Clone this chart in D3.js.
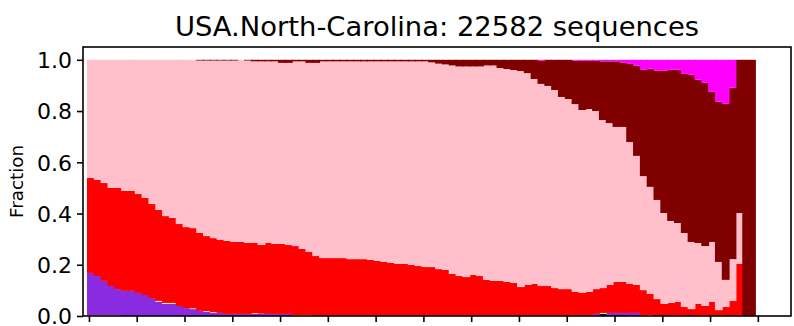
<!DOCTYPE html>
<html>
<head>
<meta charset="utf-8">
<script src="https://cdn.jsdelivr.net/npm/d3@7"></script>
<style>
  html, body { margin: 0; padding: 0; background: #fff; }
  svg { display: block; }
  text { font-family: "DejaVu Sans", sans-serif; fill: #000; }
</style>
</head>
<body>
<svg id="chart" width="794" height="326"></svg>
<script>
// Weekly lineage fractions, USA.North-Carolina (98 weekly bins, oldest first)
const titleText = "USA.North-Carolina: 22582 sequences";
const yLabel = "Fraction";

const orangeFrac = [0.004,0.004,0.004,0.004,0.004,0,0,0,0,0, 0,0,0,0,0,0,0,0,0,0,
  0,0,0,0,0,0,0,0,0,0, 0,0,0,0,0,0,0,0,0,0, 0,0,0,0,0,0,0,0,0,0, 0,0,0,0,0,0,0,0,0,0,
  0,0,0,0,0,0,0,0,0,0, 0,0,0,0,0,0,0,0,0,0, 0,0,0,0,0,0,0,0,0,0, 0,0,0,0,0,0,0,0];

const blackFrac = [0,0,0,0,0,0,0,0,0,0, 0,0,0,0,0,0,0,0,0,0,
  0,0,0,0,0,0,0,0,0,0, 0,0,0,0,0,0,0,0,0,0, 0,0,0,0,0,0,0,0,0,0, 0,0,0,0,0,0,0,0,0,0,
  0,0,0,0,0,0,0,0,0,0, 0,0,0,0,0,0.008,0.004,0.004,0.004,0, 0,0,0,0,0,0,0,0,0,0, 0,0,0,0,0,0,0,0];

const purpleFrac = [0.164,0.152,0.133,0.113,0.101,0.098,0.098,0.090,0.082,0.070,
  0.055,0.047,0.047,0.039,0.031,0.027,0.020,0.016,0.012,0.012,
  0.008,0.008,0.008,0.008,0.008,0.010,0.008,0.008,0.008,0.008,
  0,0,0,0,0,0,0,0,0,0, 0,0,0,0,0,0,0,0,0,0, 0,0,0,0,0,0,0,0,0,0,
  0,0,0,0,0,0,0,0,0,0, 0,0,0.004,0.004,0.008,0,0.008,0.008,0.008,0.012,
  0.012,0,0,0,0,0,0,0,0,0, 0,0,0,0,0,0,0,0];

const yellowFrac = [0,0,0,0,0,0,0,0,0,0, 0.004,0.004,0.004,0,0,0.003,0,0.003,0.003,0,
  0,0,0,0,0.003,0,0,0,0,0, 0.003,0.004,0.004,0,0,0,0,0,0,0,
  0,0,0,0,0,0,0,0,0,0, 0,0,0,0,0,0,0,0,0,0,
  0,0,0,0,0,0,0,0,0,0, 0,0,0,0,0,0.004,0,0,0,0,
  0,0,0.004,0,0,0,0,0,0,0, 0,0,0,0,0,0,0,0];

const grayFrac = [0,0,0,0,0,0,0,0,0,0, 0,0,0,0,0,0,0,0,0,0,
  0,0,0,0,0,0,0,0,0,0, 0,0,0,0,0,0,0,0,0,0, 0,0,0,0,0,0,0,0,0,0, 0,0,0,0,0,0,0,0,0,0,
  0,0,0,0,0,0,0,0,0,0, 0,0,0,0,0,0,0,0,0,0, 0,0.004,0,0,0,0,0,0,0,0, 0,0,0,0,0,0,0,0];

const redFrac = [0.371,0.375,0.382,0.383,0.395,0.390,0.390,0.386,0.379,0.367,
  0.355,0.339,0.332,0.320,0.316,0.313,0.304,0.293,0.289,0.285,
  0.285,0.281,0.281,0.277,0.274,0.267,0.277,0.273,0.273,0.269,
  0.270,0.258,0.246,0.234,0.226,0.226,0.226,0.226,0.222,0.222,
  0.222,0.219,0.215,0.211,0.207,0.203,0.203,0.199,0.195,0.191,
  0.191,0.183,0.180,0.164,0.156,0.152,0.160,0.156,0.141,0.137,
  0.137,0.133,0.129,0.113,0.121,0.125,0.117,0.117,0.109,0.105,
  0.105,0.094,0.086,0.090,0.097,0.097,0.109,0.121,0.121,0.113,
  0.109,0.097,0.082,0.066,0.047,0.051,0.055,0.035,0.027,0.047,
  0.039,0.055,0.023,0.035,0.059,0.203,0,0];

const pinkFrac = [0.461,0.469,0.481,0.500,0.500,0.512,0.512,0.524,0.539,0.563,
  0.586,0.610,0.617,0.641,0.653,0.657,0.673,0.685,0.693,0.700,
  0.704,0.708,0.711,0.712,0.709,0.717,0.709,0.713,0.707,0.711,
  0.721,0.732,0.738,0.754,0.768,0.768,0.768,0.768,0.772,0.772,
  0.772,0.775,0.779,0.783,0.787,0.791,0.791,0.795,0.799,0.803,
  0.799,0.802,0.802,0.814,0.818,0.822,0.814,0.818,0.837,0.841,
  0.831,0.831,0.831,0.843,0.827,0.800,0.789,0.781,0.773,0.750,
  0.742,0.733,0.714,0.714,0.695,0.656,0.632,0.605,0.605,0.554,
  0.504,0.445,0.418,0.387,0.355,0.320,0.308,0.289,0.262,0.238,
  0.234,0.234,0.188,0.106,0.163,0.199,0,0];

const maroonFrac = [0,0,0,0,0,0,0,0,0,0, 0,0,0,0,0,0,0.003,0.003,0.003,0.003,
  0.003,0.003,0,0.003,0.006,0.006,0.006,0.006,0.012,0.012,
  0.006,0.006,0.012,0.012,0.006,0.006,0.006,0.006,0.006,0.006,
  0.006,0.006,0.006,0.006,0.006,0.006,0.006,0.006,0.006,0.006,
  0.010,0.015,0.018,0.022,0.026,0.026,0.026,0.026,0.022,0.022,
  0.032,0.036,0.040,0.044,0.052,0.075,0.090,0.102,0.118,0.145,
  0.153,0.170,0.192,0.188,0.196,0.229,0.241,0.256,0.250,0.305,
  0.352,0.415,0.461,0.504,0.555,0.590,0.598,0.621,0.652,0.637,
  0.637,0.586,0.625,0.687,0.669,0.598,1,1];

const magentaFrac = [0,0,0,0,0,0,0,0,0,0, 0,0,0,0,0,0,0,0,0,0,
  0,0,0,0,0,0,0,0,0,0, 0,0,0,0,0,0,0,0,0,0, 0,0,0,0,0,0,0,0,0,0, 0,0,0,0,0,0,0,0,0,0,
  0,0,0,0,0,0,0.004,0,0,0, 0,0.003,0.004,0.004,0.004,0.006,0.006,0.006,0.012,0.016,
  0.023,0.039,0.035,0.043,0.043,0.039,0.039,0.055,0.059,0.078,
  0.090,0.125,0.164,0.172,0.109,0,0,0];

// x ticks every 49 days (7 weekly bins); labels fall below the visible area
const tickDays = [2, 51, 100, 149, 198, 247, 296, 345, 394, 443, 492, 541, 590, 639, 688];
const yTicks = [0, 0.2, 0.4, 0.6, 0.8, 1.0];

const layers = [
  { key: "orange",  values: orangeFrac,  color: "#ffa500" },
  { key: "black",   values: blackFrac,   color: "#000000" },
  { key: "purple",  values: purpleFrac,  color: "#8a2be2" },
  { key: "yellow",  values: yellowFrac,  color: "#f0e68c" },
  { key: "gray",    values: grayFrac,    color: "#a9a9a9" },
  { key: "red",     values: redFrac,     color: "#ff0000" },
  { key: "pink",    values: pinkFrac,    color: "#ffc0cb" },
  { key: "maroon",  values: maroonFrac,  color: "#800000" },
  { key: "magenta", values: magentaFrac, color: "#ff00ff" }
];

const nBins = redFrac.length;
const rows = d3.range(nBins).map(i => {
  const r = { day: i * 7 };
  layers.forEach(l => { r[l.key] = l.values[i]; });
  return r;
});

const svg = d3.select("#chart");
const plot = { left: 83, right: 791, top: 47, bottom: 316 };

const x = d3.scaleLinear().domain([-4.1, 722.0]).range([plot.left, plot.right]);
const y = d3.scaleLinear().domain([0, 1.05]).range([plot.bottom, plot.top]);

const stack = d3.stack().keys(layers.map(l => l.key));
const series = stack(rows);

const lastDay = (nBins - 1) * 7;
const barsG = svg.append("g");
series.forEach((s, li) => {
  barsG.append("g")
    .attr("fill", layers[li].color)
    .selectAll("rect")
    .data(s.filter(d => d[1] - d[0] > 0))
    .join("rect")
    .attr("x", d => x(d.data.day))
    // bars overlap their right neighbour by a pixel so no seams show
    .attr("width", d => x(d.data.day + 7) - x(d.data.day) + (d.data.day < lastDay ? 1 : 0))
    .attr("y", d => y(d[1]))
    .attr("height", d => y(d[0]) - y(d[1]));
});

// frame
svg.append("rect")
  .attr("x", plot.left).attr("y", plot.top)
  .attr("width", plot.right - plot.left).attr("height", plot.bottom - plot.top)
  .attr("fill", "none").attr("stroke", "#000").attr("stroke-width", 1.6);

// y axis
const yAxis = svg.append("g")
  .attr("transform", `translate(${plot.left},0)`)
  .call(d3.axisLeft(y).tickValues(yTicks).tickFormat(d3.format(".1f")).tickSize(6).tickPadding(5));
yAxis.select(".domain").remove();
yAxis.selectAll(".tick line").attr("stroke", "#000").attr("stroke-width", 1.6);
yAxis.selectAll(".tick text")
  .attr("font-family", "DejaVu Sans").attr("font-size", 22).attr("fill", "#000")
  .attr("dy", "0.36em");

// x axis (ticks only)
const xAxis = svg.append("g")
  .attr("transform", `translate(0,${plot.bottom})`)
  .call(d3.axisBottom(x).tickValues(tickDays).tickFormat("").tickSize(6));
xAxis.select(".domain").remove();
xAxis.selectAll(".tick line").attr("stroke", "#000").attr("stroke-width", 1.6);

// title
svg.append("text")
  .attr("x", (plot.left + plot.right) / 2).attr("y", 36)
  .attr("text-anchor", "middle")
  .attr("font-size", 27.4)
  .text(titleText);

// y label
svg.append("text")
  .attr("transform", `translate(23,${(plot.top + plot.bottom) / 2}) rotate(-90)`)
  .attr("text-anchor", "middle")
  .attr("font-size", 18.3)
  .text(yLabel);
</script>
</body>
</html>
